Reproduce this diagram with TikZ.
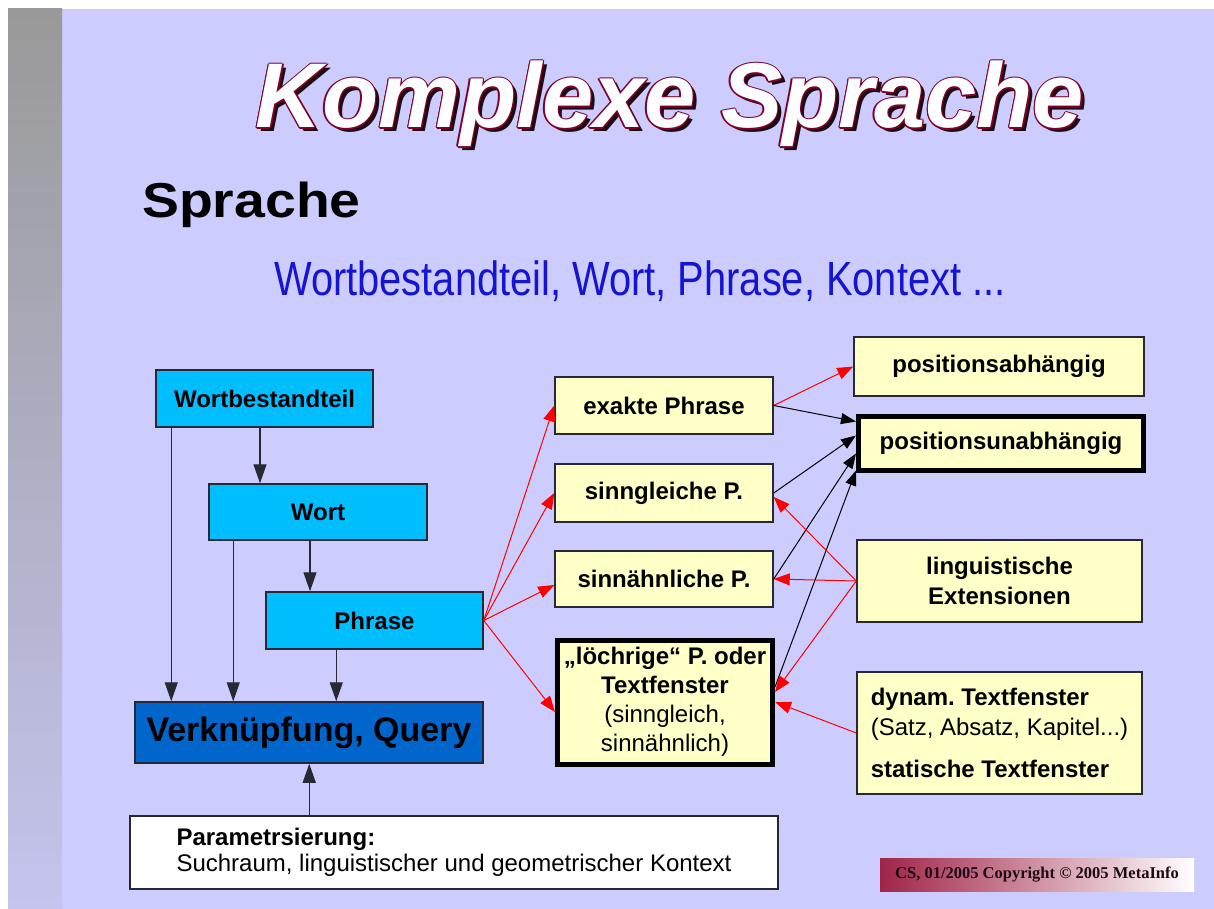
\documentclass[tikz,border=0pt]{standalone}
\usepackage{fontspec}
\setmainfont{Liberation Sans}
\newfontfamily\schmalfont[FakeStretch=0.83]{Liberation Sans}
\newfontfamily\breitfont[FakeStretch=1.13]{Liberation Sans}
\newfontfamily\cprfont{Liberation Serif}
\usetikzlibrary{arrows.meta}
\frenchspacing
\definecolor{lila}{RGB}{204,204,255}
\definecolor{balkengrau}{RGB}{153,153,153}
\definecolor{balkenlila}{RGB}{196,196,238}
\definecolor{hellblau}{RGB}{0,190,255}
\definecolor{dunkelblau}{RGB}{0,102,204}
\definecolor{hellgelb}{RGB}{255,255,200}
\definecolor{rahmen}{RGB}{40,40,50}
\definecolor{titelrot}{RGB}{128,0,40}
\definecolor{titelschatten}{RGB}{30,10,20}
\definecolor{titelblau}{RGB}{20,20,210}
\definecolor{cprrot}{RGB}{160,36,72}
\tikzset{
every picture/.style={line join=miter},
titel/.style={anchor=base, inner sep=0pt, font=\bfseries\itshape\fontsize{92}{96}\selectfont},
blaubox/.style={draw=rahmen, line width=1.5pt, fill=hellblau, minimum width=217pt, minimum height=57pt, inner sep=0pt, font=\bfseries\fontsize{24}{29}\selectfont},
gelbbox/.style={draw=rahmen, line width=1.5pt, fill=hellgelb, minimum width=218pt, minimum height=57pt, inner sep=0pt, align=center, font=\bfseries\fontsize{24}{30}\selectfont},
dickbox/.style={gelbbox, draw=black, line width=5pt},
pfeil/.style={-{Triangle[length=19pt,width=13pt]}, rahmen, line width=1.3pt},
rotpfeil/.style={-{Triangle[length=16pt,width=12pt]}, red, line width=1pt},
schwpfeil/.style={-{Triangle[length=15pt,width=11pt]}, black, line width=1pt}
}
\begin{document}
\begin{tikzpicture}[x=1pt,y=-1pt]
\useasboundingbox (0,0) rectangle (1214,909);
\fill[white] (0,0) rectangle (1214,909);
\fill[lila] (62,9) rectangle (1214,909);
\shade[top color=balkengrau, bottom color=balkenlila] (8,9) rectangle (62,909);

% Ueberschriften
\node[titel, text=titelschatten] (titelschatten) at (674,132) {Komplexe Sprache};
\foreach \w in {0,45,...,315}
  \node[titel, text=titelrot] (titelrand\w) at ([shift={(\w:1.4)}]670,128) {Komplexe Sprache};
\node[titel, text=white] (titel) at (670,128) {Komplexe Sprache};
\node[anchor=base west, inner sep=0pt, font=\breitfont\bfseries\fontsize{49}{55}\selectfont] (sprache) at (142,218) {Sprache};
\node[anchor=base west, inner sep=0pt, text=titelblau, font=\schmalfont\fontsize{48}{55}\selectfont] (unterzeile) at (274,295) {Wortbestandteil, Wort, Phrase, Kontext ...};

% linke Seite
\node[blaubox] (wbt) at (264.5,398.5) {Wortbestandteil};
\node[blaubox, minimum width=218pt, minimum height=56pt] (wort) at (318,512) {Wort};
\node[blaubox] (phrase) at (374.5,620.5) {Phrase};
\node[blaubox, fill=dunkelblau, minimum width=348pt, minimum height=61pt, font=\bfseries\fontsize{34}{38}\selectfont] (query) at (309,732.5) {Verknüpfung, Query};
\node[draw=rahmen, line width=1.5pt, fill=white, minimum width=648pt, minimum height=73pt, inner sep=0pt, align=left, font=\fontsize{24}{26}\selectfont] (param) at (454,852.5) {\textbf{Parametrsierung:}\\Suchraum, linguistischer und geometrischer Kontext};

% Phrasenarten
\node[gelbbox] (exakt) at (664,405.5) {exakte Phrase};
\node[gelbbox, minimum height=58pt] (sinngl) at (664,493) {sinngleiche P.};
\node[gelbbox, minimum height=56pt] (sinnae) at (664,579) {sinnähnliche P.};
\node[dickbox, minimum width=215pt, minimum height=124pt, font=\fontsize{24}{29}\selectfont] (loech) at (665,702) {\textbf{„löchrige“ P. oder}\\\textbf{Textfenster}\\(sinngleich,\\sinnähnlich)};

% rechte Seite
\node[gelbbox, minimum width=290pt, minimum height=59pt] (posab) at (999,366.5) {positionsabhängig};
\node[dickbox, minimum width=285pt, minimum height=54pt] (posun) at (1001,443.5) {positionsunabhängig};
\node[gelbbox, minimum width=285pt, minimum height=82pt] (lingu) at (999.5,581) {linguistische\\Extensionen};
\node[gelbbox, minimum width=285pt, minimum height=122pt, align=left, font=\fontsize{24}{30}\selectfont] (dynam) at (999.5,733) {\textbf{dynam. Textfenster}\\(Satz, Absatz, Kapitel...)\\[12pt]\textbf{statische Textfenster}};

\node[left color=cprrot, right color=white, minimum width=314pt, minimum height=33pt, inner sep=0pt, text=titelschatten, font=\cprfont\bfseries\fontsize{16.5}{19}\selectfont] (cpr) at (1037,874.5) {CS, 01/2005 Copyright © 2005 MetaInfo};

% Pfeile links
\draw[pfeil] ([xshift=16pt]wbt.south west) -- ([xshift=16pt]wbt.south west |- query.north);
\draw[pfeil] ([xshift=-4.5pt]wbt.south) -- ([xshift=-4.5pt]wbt.south |- wort.north);
\draw[pfeil] ([xshift=25pt]wort.south west) -- ([xshift=25pt]wort.south west |- query.north);
\draw[pfeil] ([xshift=-8pt]wort.south) -- ([xshift=-8pt]wort.south |- phrase.north);
\draw[pfeil] ([xshift=71pt]phrase.south west) -- ([xshift=71pt]phrase.south west |- query.north);
\draw[pfeil] ([xshift=180pt]param.north west) -- ([xshift=180pt]param.north west |- query.south);

% Pfeile zu den Phrasenarten
\draw[rotpfeil] (phrase.east) -- (exakt.west);
\draw[rotpfeil] (phrase.east) -- (sinngl.west);
\draw[rotpfeil] (phrase.east) -- ([yshift=-6pt]sinnae.west);
\draw[rotpfeil] (phrase.east) -- ([yshift=-10pt]loech.west);

% Pfeile rechts
\draw[rotpfeil] (exakt.east) -- (posab.west);
\draw[schwpfeil] (exakt.east) -- ([yshift=22pt]posun.west);
\draw[schwpfeil] (sinngl.east) -- ([yshift=8pt]posun.west);
\draw[schwpfeil] (sinnae.east) -- ([yshift=-10pt]posun.west);
\draw[schwpfeil] ([yshift=15pt]loech.east) -- ([yshift=-27pt]posun.west);
\draw[rotpfeil] (lingu.west) -- ([yshift=-4pt]sinngl.east);
\draw[rotpfeil] (lingu.west) -- (sinnae.east);
\draw[rotpfeil] (lingu.west) -- ([yshift=10pt]loech.east);
\draw[rotpfeil] (dynam.west) -- (loech.east);
\end{tikzpicture}
\end{document}
